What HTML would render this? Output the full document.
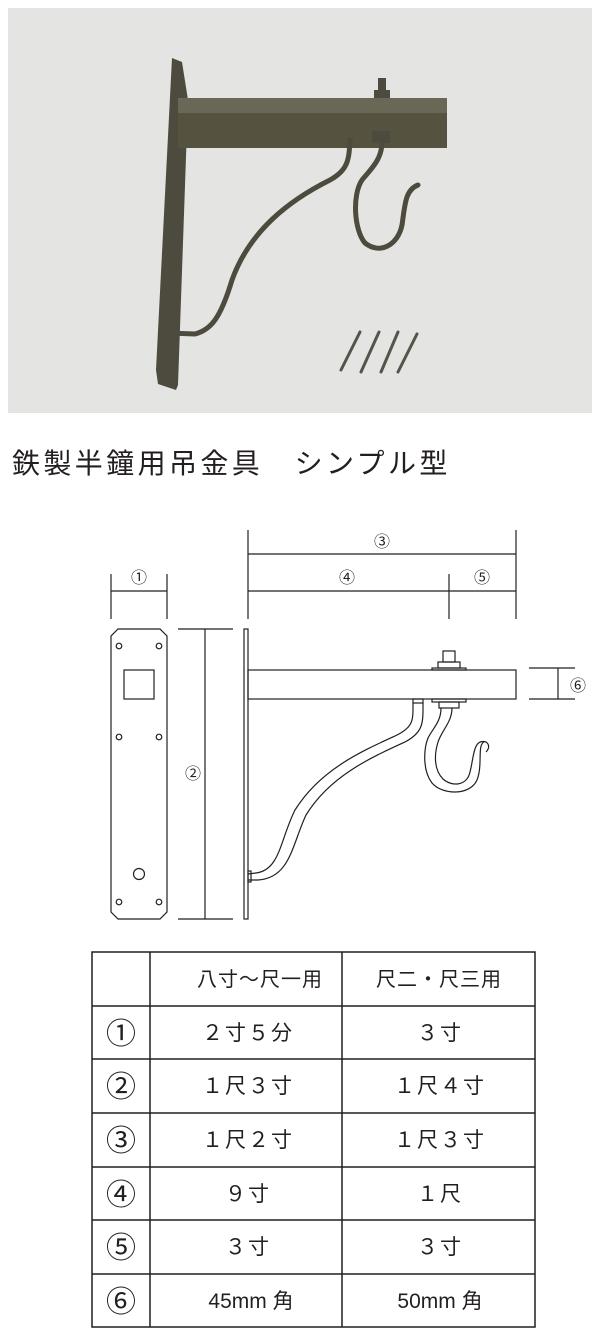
<!DOCTYPE html>
<html><head><meta charset="utf-8"><style>
html,body{margin:0;padding:0;background:#fff;}
svg{display:block}
text{font-family:"Liberation Sans","Noto Sans CJK JP",sans-serif;fill:#231f20}
</style></head><body>
<svg width="600" height="1341" viewBox="0 0 600 1341" xmlns="http://www.w3.org/2000/svg">
<rect x="8" y="8" width="584" height="405" fill="#e4e4e2"/>
<g fill="#4d4a3e" stroke="none">
<polygon points="172,58 182,62 188,100 178,385 176,390 158,384 156,370"/>
<rect x="178" y="98" width="269" height="50" fill="#55523f"/>
<rect x="178" y="98" width="269" height="15" fill="#6a6756"/>
<rect x="378" y="78" width="8" height="20"/>
<rect x="374" y="90" width="16" height="8"/>
<rect x="372" y="131" width="18" height="12"/>
</g>
<g fill="none" stroke="#4d4a3e" stroke-width="5" stroke-linecap="round">
<path d="M350,140 C349,160 348,170 330,180 C290,200 250,230 232,280 C220,320 210,330 195,334 L168,333"/>
<path d="M382,142 C382,160 370,170 362,180 C352,195 354,230 365,243 C380,255 398,245 402,225 C405,205 405,190 418,185"/>
</g>
<g stroke="#55534a" stroke-width="3" stroke-linecap="round">
<line x1="360" y1="332" x2="341" y2="370"/>
<line x1="379" y1="332" x2="361" y2="372"/>
<line x1="398" y1="332" x2="381" y2="372"/>
<line x1="417" y1="334" x2="398" y2="372"/>
</g>
<text x="12" y="473" font-size="28" letter-spacing="3.4" fill="#231f20">鉄製半鐘用吊金具　シンプル型</text>

<g fill="none" stroke="#231f20" stroke-width="1.2">
<line x1="111" y1="574" x2="111" y2="619"/><line x1="167" y1="574" x2="167" y2="619"/>
<line x1="111" y1="591" x2="167" y2="591"/>
<polygon points="118,629 160,629 167,636 167,912 160,919 118,919 111,912 111,636"/>
<rect x="124" y="670" width="30" height="29"/>
<circle cx="119" cy="646" r="2.8"/><circle cx="159" cy="646" r="2.8"/>
<circle cx="119" cy="737" r="2.8"/><circle cx="159" cy="737" r="2.8"/>
<circle cx="139" cy="874" r="5.5"/>
<circle cx="119" cy="902" r="2.8"/><circle cx="159" cy="902" r="2.8"/>
<line x1="178" y1="629" x2="233" y2="629"/><line x1="178" y1="919" x2="233" y2="919"/>
<line x1="205" y1="629" x2="205" y2="919"/>
<line x1="248" y1="530" x2="248" y2="619"/><line x1="516" y1="530" x2="516" y2="619"/>
<line x1="248" y1="554" x2="516" y2="554"/>
<line x1="248" y1="591" x2="516" y2="591"/>
<line x1="449" y1="574" x2="449" y2="619"/>
<rect x="244" y="629" width="4" height="290"/>
<rect x="248" y="670" width="268" height="29"/>
<line x1="529" y1="668" x2="575" y2="668"/><line x1="529" y1="699" x2="575" y2="699"/>
<line x1="558" y1="668" x2="558" y2="699"/>
<rect x="443" y="651" width="12" height="11"/>
<rect x="438" y="662" width="22" height="6"/>
<rect x="432" y="668" width="34" height="2"/>
<rect x="432" y="699" width="34" height="3"/>
<rect x="439" y="702" width="20" height="6"/>
<rect x="413" y="699" width="10" height="4"/>
<path d="M413,703 C413,720 414,727 395,736 C360,752 320,770 295,810 C280,840 280,870 256,873 L248,874"/>
<path d="M423,703 C423,722 424,732 405,742 C370,758 330,776 306,815 C292,845 290,878 258,880 L248,880"/>
<rect x="248" y="871" width="3" height="11"/>
<path d="M441,708 C441,722 433,728 428,738 C424,748 422,770 432,783 C442,795 470,796 477,780 C483,765 477,745 484,742"/>
<path d="M452,708 C452,722 442,730 438,742 C434,755 434,770 443,779 C452,787 467,786 470,772 C474,757 473,738 486,742 C489,744 490,748 486,752"/>
<rect x="92" y="952" width="443" height="375" stroke-width="1.5"/>
<line x1="150" y1="952" x2="150" y2="1327" stroke-width="1.5"/>
<line x1="342" y1="952" x2="342" y2="1327" stroke-width="1.5"/>
<line x1="92" y1="1006" x2="535" y2="1006" stroke-width="1.5"/>
<line x1="92" y1="1059" x2="535" y2="1059" stroke-width="1.5"/>
<line x1="92" y1="1113" x2="535" y2="1113" stroke-width="1.5"/>
<line x1="92" y1="1167" x2="535" y2="1167" stroke-width="1.5"/>
<line x1="92" y1="1220" x2="535" y2="1220" stroke-width="1.5"/>
<line x1="92" y1="1274" x2="535" y2="1274" stroke-width="1.5"/>
</g>
<g font-size="16" text-anchor="middle">
<text x="139" y="583">①</text>
<text x="193" y="779">②</text>
<text x="382" y="547">③</text>
<text x="347" y="583">④</text>
<text x="482" y="583">⑤</text>
<text x="578" y="691">⑥</text>
</g>
<g font-size="20" text-anchor="middle">
<text x="260" y="986" letter-spacing="1">八寸〜尺一用</text>
<text x="439" y="986" letter-spacing="1">尺二・尺三用</text>
<g font-size="30"><text x="121" y="1044">①</text><text x="121" y="1097">②</text><text x="121" y="1151">③</text><text x="121" y="1205">④</text><text x="121" y="1258">⑤</text><text x="121" y="1312">⑥</text></g>
<g font-size="21" letter-spacing="2">
<text x="248" y="1040">２寸５分</text><text x="440" y="1040">３寸</text>
<text x="248" y="1093">１尺３寸</text><text x="440" y="1093">１尺４寸</text>
<text x="248" y="1147">１尺２寸</text><text x="440" y="1147">１尺３寸</text>
<text x="248" y="1201">９寸</text><text x="440" y="1201">１尺</text>
<text x="248" y="1254">３寸</text><text x="440" y="1254">３寸</text>
</g>
<g font-size="21">
<text x="251" y="1308">45mm 角</text><text x="440" y="1308">50mm 角</text>
</g>
</g>
</svg>
</body></html>
